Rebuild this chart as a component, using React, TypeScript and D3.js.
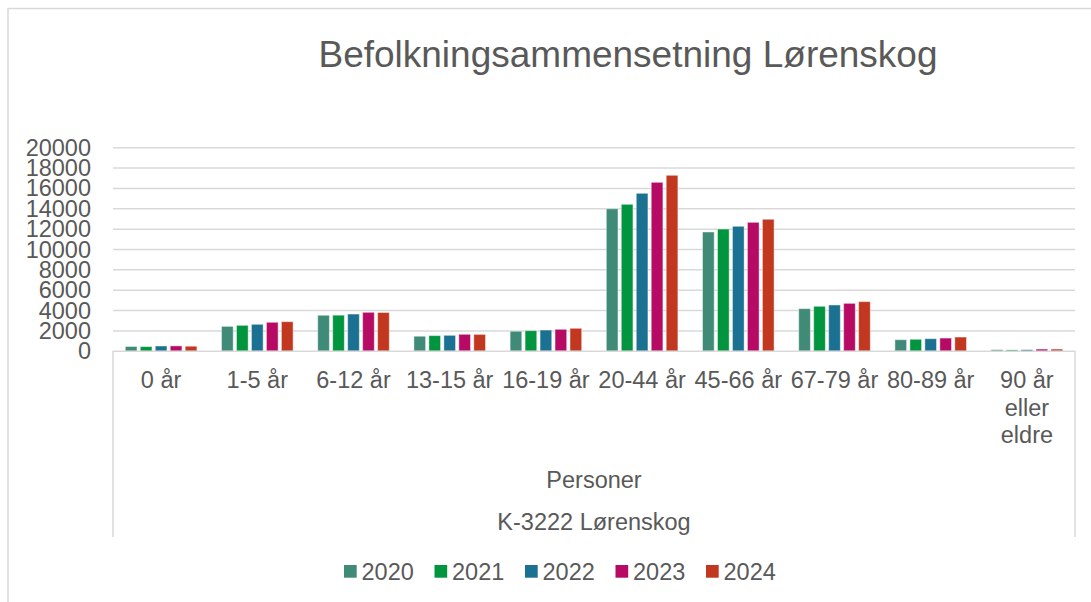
import React, { useRef, useEffect } from "react";
import * as d3 from "d3";

// age groups on the x axis
const categories = ["0 år", "1-5 år", "6-12 år", "13-15 år", "16-19 år", "20-44 år", "45-66 år", "67-79 år", "80-89 år", "90 år eller eldre"];
const years = ["2020", "2021", "2022", "2023", "2024"];

// persons per age group, one array per year
const v2020 = [470, 2450, 3540, 1480, 1970, 14000, 11720, 4190, 1140, 160];
const v2021 = [460, 2550, 3550, 1540, 2030, 14440, 12010, 4420, 1180, 140];
const v2022 = [520, 2650, 3660, 1570, 2090, 15520, 12280, 4550, 1240, 160];
const v2023 = [530, 2850, 3830, 1670, 2160, 16600, 12670, 4710, 1300, 220];
const v2024 = [500, 2910, 3810, 1660, 2260, 17290, 12970, 4880, 1400, 220];

const yTicks = [0, 2000, 4000, 6000, 8000, 10000, 12000, 14000, 16000, 18000, 20000];
const colors = ["#3F8B77", "#00953E", "#1B7191", "#B70A65", "#C2371F"];

const App = () => {
  const svgRef = useRef(null);

  useEffect(() => {
    const width = 1091;
    const height = 602;
    const font = "'Liberation Sans', Arial, sans-serif";
    const textColor = "#595959";
    const lineColor = "#D9D9D9";
    const labelSize = 23.5;

    const plot = { left: 113, right: 1075, top: 147.7, bottom: 351.3 };

    const svg = d3.select(svgRef.current)
      .attr("width", width)
      .attr("height", height);
    svg.selectAll("*").remove();

    const series = [v2020, v2021, v2022, v2023, v2024];

    // outer chart frame (only top and left visible)
    svg.append("path")
      .attr("d", `M8,${height + 5} L8,8.5 L${width + 5},8.5`)
      .attr("fill", "none")
      .attr("stroke", lineColor)
      .attr("stroke-width", 1.5);

    svg.append("text")
      .attr("x", 628)
      .attr("y", 67)
      .attr("text-anchor", "middle")
      .attr("font-family", font)
      .attr("font-size", 37)
      .attr("fill", textColor)
      .text("Befolkningsammensetning Lørenskog");

    const x = d3.scaleBand()
      .domain(categories)
      .range([plot.left, plot.right])
      .paddingInner(0.256)
      .paddingOuter(0.128);

    const xInner = d3.scaleBand()
      .domain(years)
      .range([0, x.bandwidth()])
      .paddingInner(0.22);

    const y = d3.scaleLinear()
      .domain([0, 20000])
      .range([plot.bottom, plot.top]);

    // gridlines
    svg.append("g")
      .selectAll("line")
      .data(yTicks.filter(d => d > 0))
      .enter()
      .append("line")
      .attr("x1", plot.left)
      .attr("x2", plot.right)
      .attr("y1", d => y(d))
      .attr("y2", d => y(d))
      .attr("stroke", lineColor)
      .attr("stroke-width", 1.5);

    // y tick labels
    svg.append("g")
      .selectAll("text")
      .data(yTicks)
      .enter()
      .append("text")
      .attr("x", 91)
      .attr("y", d => y(d) + 8)
      .attr("text-anchor", "end")
      .attr("font-family", font)
      .attr("font-size", labelSize)
      .attr("fill", textColor)
      .text(d => d);

    // bars
    const groups = svg.append("g")
      .selectAll("g")
      .data(categories)
      .enter()
      .append("g")
      .attr("transform", d => `translate(${x(d)},0)`);

    groups.selectAll("rect")
      .data((d, i) => years.map((yr, j) => ({ yr, j, value: series[j][i] })))
      .enter()
      .append("rect")
      .attr("x", d => xInner(d.yr))
      .attr("width", xInner.bandwidth())
      .attr("y", d => y(d.value))
      .attr("height", d => y(0) - y(d.value))
      .attr("fill", d => colors[d.j])
      .attr("stroke", "#ffffff")
      .attr("stroke-opacity", 0.45)
      .attr("stroke-width", 1);

    // category axis box
    svg.append("path")
      .attr("d", `M${plot.left},537 L${plot.left},${plot.bottom} L${plot.right},${plot.bottom} L${plot.right},537`)
      .attr("fill", "none")
      .attr("stroke", lineColor)
      .attr("stroke-width", 1.5);

    // category labels, wrapped when wider than the band
    const step = x.step();
    const catLabels = svg.append("g")
      .selectAll("text")
      .data(categories)
      .enter()
      .append("text")
      .attr("x", d => x(d) + x.bandwidth() / 2)
      .attr("y", 388)
      .attr("text-anchor", "middle")
      .attr("font-family", font)
      .attr("font-size", labelSize)
      .attr("fill", textColor)
      .text(d => d);

    catLabels.each(function (d) {
      const t = d3.select(this);
      if ((this as SVGTextElement).getComputedTextLength() <= step) return;
      const words = d.split(" ");
      const lines = [];
      let cur = "";
      t.text("");
      words.forEach(w => {
        const test = cur ? cur + " " + w : w;
        t.text(test);
        if (cur && (this as SVGTextElement).getComputedTextLength() > step) {
          lines.push(cur);
          cur = w;
        } else {
          cur = test;
        }
      });
      lines.push(cur);
      t.text("");
      const cx = x(d) + x.bandwidth() / 2;
      lines.forEach((ln, k) => {
        t.append("tspan")
          .attr("x", cx)
          .attr("dy", k === 0 ? 0 : 27.5)
          .text(ln);
      });
    });

    const mid = (plot.left + plot.right) / 2;
    svg.append("text")
      .attr("x", mid)
      .attr("y", 488)
      .attr("text-anchor", "middle")
      .attr("font-family", font)
      .attr("font-size", labelSize)
      .attr("fill", textColor)
      .text("Personer");

    svg.append("text")
      .attr("x", mid)
      .attr("y", 530)
      .attr("text-anchor", "middle")
      .attr("font-family", font)
      .attr("font-size", labelSize)
      .attr("fill", textColor)
      .text("K-3222 Lørenskog");

    // legend
    const legend = svg.append("g")
      .selectAll("g")
      .data(years)
      .enter()
      .append("g")
      .attr("transform", (d, i) => `translate(${344 + i * 90.5},565)`);

    legend.append("rect")
      .attr("width", 12.7)
      .attr("height", 12.7)
      .attr("fill", (d, i) => colors[i]);

    legend.append("text")
      .attr("x", 17.5)
      .attr("y", 15)
      .attr("font-family", font)
      .attr("font-size", labelSize)
      .attr("fill", textColor)
      .text(d => d);
  }, [svgRef.current]);

  return <svg ref={svgRef} style={{ position: "absolute", left: 0, top: 0, background: "#fff" }} />;
};

export default App;
